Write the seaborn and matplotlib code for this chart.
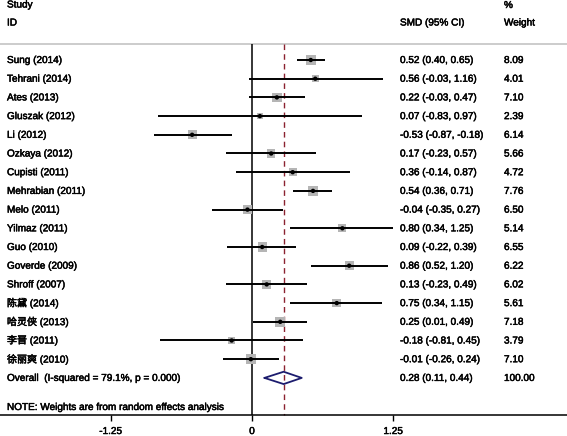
import matplotlib
matplotlib.use("Agg")
import matplotlib.pyplot as plt
import matplotlib.patheffects as pe
import seaborn as sns
import pandas as pd
import numpy as np

studies = ["Sung (2014)", "Tehrani (2014)", "Ates (2013)", "Gluszak (2012)", "Li (2012)",
           "Ozkaya (2012)", "Cupisti (2011)", "Mehrabian (2011)", "Melo (2011)", "Yilmaz (2011)",
           "Guo (2010)", "Goverde (2009)", "Shroff (2007)", "陈黛 (2014)", "哈灵侠 (2013)",
           "李晋 (2011)", "徐丽爽 (2010)"]
smd = [0.52, 0.56, 0.22, 0.07, -0.53, 0.17, 0.36, 0.54, -0.04, 0.80, 0.09, 0.86, 0.13, 0.75, 0.25, -0.18, -0.01]
lower = [0.40, -0.03, -0.03, -0.83, -0.87, -0.23, -0.14, 0.36, -0.35, 0.34, -0.22, 0.52, -0.23, 0.34, 0.01, -0.81, -0.26]
upper = [0.65, 1.16, 0.47, 0.97, -0.18, 0.57, 0.87, 0.71, 0.27, 1.25, 0.39, 1.20, 0.49, 1.15, 0.49, 0.45, 0.24]
weight = [8.09, 4.01, 7.10, 2.39, 6.14, 5.66, 4.72, 7.76, 6.50, 5.14, 6.55, 6.22, 6.02, 5.61, 7.18, 3.79, 7.10]
overall = 0.28
overall_lower = 0.11
overall_upper = 0.44
overall_weight = "100.00"
overall_label = "Overall  (I-squared = 79.1%, p = 0.000)"
note = "NOTE: Weights are from random effects analysis"
xticks = [-1.25, 0, 1.25]
xtick_labels = ["-1.25", "0", "1.25"]

df = pd.DataFrame({"study": studies, "smd": smd, "lower": lower, "upper": upper, "weight": weight})
df["row"] = np.arange(len(df))

sns.set_theme(style="white")
plt.rcParams["font.family"] = ["Liberation Sans", "Noto Sans CJK SC", "DejaVu Sans"]
plt.rcParams["text.color"] = "black"

fig = plt.figure(figsize=(5.67, 4.36), dpi=100)
ax = fig.add_axes([0, 0, 1, 1])

# pixel mapping: x_px = 252 + 113*x ; y_px = 60 + 18.7*row
XPX0, XSC = 252.0, 113.0
YPX0, YSC = 60.0, 18.7
def dx(px):
    return (px - XPX0) / XSC
def dy(py):
    return (py - YPX0) / YSC

top = dy(44)
axis_y = dy(415)
n = len(df)
overall_row = n

# header rule
ax.hlines(top, dx(0), dx(567), color="#c4c4c4", lw=1.2)
# zero line and overall dashed line
ax.vlines(0, top, axis_y, color="black", lw=1.1)
ax.vlines(overall, top, axis_y, color="#8b2230", lw=1.0, linestyles=(0, (4, 3)))

# CI lines
ax.hlines(df["row"], df["lower"], df["upper"], color="black", lw=1.4, zorder=3)
# weight squares (area proportional to weight)
side_px = 3.6 * np.sqrt(df["weight"])
sizes = (side_px * 0.72) ** 2
ax.scatter(df["smd"], df["row"], s=sizes, marker="s", color="#b5b5b5", edgecolor="none", zorder=2)
sns.scatterplot(data=df, x="smd", y="row", ax=ax, color="black", s=10, marker="o",
                edgecolor="none", zorder=4, legend=False)

# diamond
h = 0.33
dxs = [overall_lower, overall, overall_upper, overall, overall_lower]
dys = [overall_row, overall_row - h, overall_row, overall_row + h, overall_row]
ax.plot(dxs, dys, color="#1c1c6e", lw=1.3, zorder=5)

fs = 7.2
eff = [pe.withStroke(linewidth=0.35, foreground="black")]
def txt(x, y, s, **kw):
    kw.setdefault("va", "center")
    kw.setdefault("ha", "left")
    ax.text(x, y, s, fontsize=fs, path_effects=eff, **kw)

lab_x = dx(7)
smd_x = dx(400)
w_x = dx(504)
for i, r in df.iterrows():
    txt(lab_x, r["row"], r["study"])
    txt(smd_x, r["row"], f"{r['smd']:.2f} ({r['lower']:.2f}, {r['upper']:.2f})")
    txt(w_x, r["row"], f"{r['weight']:.2f}")
txt(lab_x, overall_row, overall_label)
txt(smd_x, overall_row, f"{overall:.2f} ({overall_lower:.2f}, {overall_upper:.2f})")
txt(w_x, overall_row, overall_weight)
txt(lab_x, dy(407), note)

# headers
txt(lab_x, dy(7.5), "Study", va="baseline")
txt(lab_x, dy(25.5), "ID", va="baseline")
txt(smd_x, dy(25.5), "SMD (95% CI)", va="baseline")
txt(w_x, dy(8), "%", va="baseline")
txt(w_x, dy(25.5), "Weight", va="baseline")

# bottom axis
ax.hlines(axis_y, dx(0), dx(567), color="black", lw=1.1)
ax.vlines(xticks, axis_y, dy(421), color="black", lw=1.0)
for t, l in zip(xticks, xtick_labels):
    txt(t, dy(431), l, ha="center")

ax.set_xlim(dx(0), dx(567))
ax.set_ylim(dy(436), dy(0))
ax.set_axis_off()

fig.savefig("out.png", dpi=100)
